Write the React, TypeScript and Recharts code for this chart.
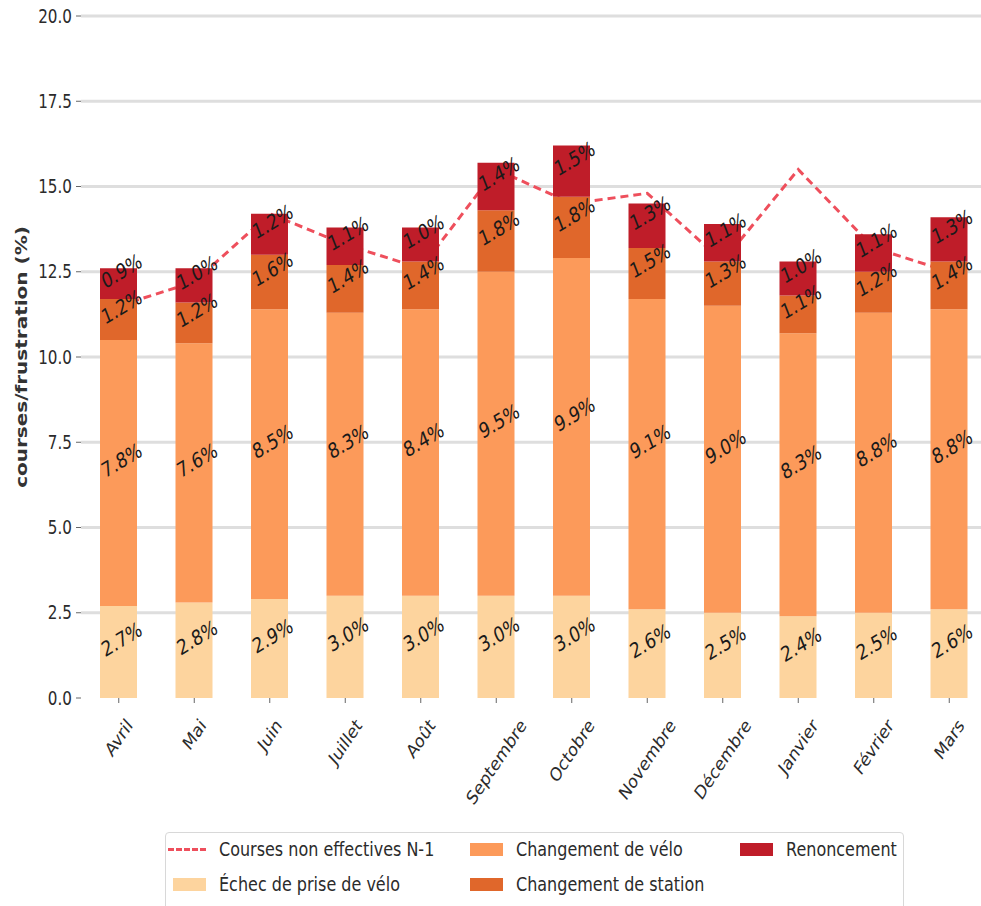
import { ComposedChart, Bar, Line, XAxis, YAxis, CartesianGrid, LabelList, Label } from 'recharts'

const months = ['Avril', 'Mai', 'Juin', 'Juillet', 'Août', 'Septembre', 'Octobre', 'Novembre', 'Décembre', 'Janvier', 'Février', 'Mars']
const echec = [2.7, 2.8, 2.9, 3.0, 3.0, 3.0, 3.0, 2.6, 2.5, 2.4, 2.5, 2.6]
const changementVelo = [7.8, 7.6, 8.5, 8.3, 8.4, 9.5, 9.9, 9.1, 9.0, 8.3, 8.8, 8.8]
const changementStation = [1.2, 1.2, 1.6, 1.4, 1.4, 1.8, 1.8, 1.5, 1.3, 1.1, 1.2, 1.4]
const renoncement = [0.9, 1.0, 1.2, 1.1, 1.0, 1.4, 1.5, 1.3, 1.1, 1.0, 1.1, 1.3]
const coursesN1 = [11.5, 12.2, 14.2, 13.3, 12.6, 15.5, 14.5, 14.8, 12.8, 15.5, 13.2, 12.5]
const yTicks = [0, 2.5, 5, 7.5, 10, 12.5, 15, 17.5, 20]
const gridValues = [2.5, 5, 7.5, 10, 12.5, 15, 17.5, 20]

const barSeries = [
    { key: 'echec', name: 'Échec de prise de vélo', color: '#fdd49e', values: echec },
    { key: 'velo', name: 'Changement de vélo', color: '#fc9a5a', values: changementVelo },
    { key: 'station', name: 'Changement de station', color: '#e0672b', values: changementStation },
    { key: 'renoncement', name: 'Renoncement', color: '#bf1d29', values: renoncement },
]
const lineSeries = { key: 'n1', name: 'Courses non effectives N-1', color: '#ee4f5c' }

const data = months.map((month, i) => {
    const row: Record<string, string | number> = { month, n1: coursesN1[i] }
    barSeries.forEach((s) => { row[s.key] = s.values[i] })
    return row
})

const FONT = "'DejaVu Sans', sans-serif"
// the picture is narrower than it is tall, so all text gets squeezed sideways
const SX = 0.8

let ctx: CanvasRenderingContext2D | null = null
const textWidth = (s: string, size: number) => {
    if (!ctx) ctx = document.createElement('canvas').getContext('2d')
    if (!ctx) return s.length * size * 0.6
    ctx.font = `${size}px 'DejaVu Sans'`
    return ctx.measureText(s).width
}

const MonthTick = ({ x, y, payload }: any) => {
    const size = 19
    const angle = 50
    const rad = (angle * Math.PI) / 180
    const len = textWidth(String(payload.value), size)
    const boxH = len * Math.sin(rad) + size * 0.95 * Math.cos(rad)
    const cy = y + 11 + boxH / 2
    return (
        <text
            transform={`translate(${x},${cy}) scale(${SX},1) rotate(-${angle})`}
            textAnchor='middle'
            dominantBaseline='central'
            fontSize={size}
            fontFamily={FONT}
            fill='#2b2b2b'
        >
            {payload.value}
        </text>
    )
}

const ValueTick = ({ x, y, payload }: any) => (
    <text
        transform={`translate(${x},${y}) scale(${SX},1)`}
        textAnchor='end'
        dominantBaseline='central'
        fontSize={19}
        fontFamily={FONT}
        fill='#2b2b2b'
    >
        {Number(payload.value).toFixed(1)}
    </text>
)

const AxisTitle = ({ viewBox }: any) => {
    const cx = viewBox.x + 21
    const cy = viewBox.y + viewBox.height / 2
    return (
        <text
            transform={`translate(${cx},${cy}) scale(${SX},1) rotate(-90)`}
            textAnchor='middle'
            dominantBaseline='central'
            fontSize={20}
            fontWeight='bold'
            fontFamily={FONT}
            fill='#333'
        >
            courses/frustration (%)
        </text>
    )
}

const SegmentLabel = (props: any) => {
    const { x, y, width, height, value } = props
    const cx = Number(x) + Number(width) / 2 + 3
    const cy = Number(y) + Number(height) / 2 - 13
    return (
        <text
            transform={`translate(${cx},${cy}) scale(${SX},1) rotate(-26)`}
            textAnchor='middle'
            dominantBaseline='central'
            fontSize={21}
            fontFamily={FONT}
            fill='#1a1a1a'
        >
            {`${Number(value).toFixed(1)}%`}
        </text>
    )
}

// legend, matplotlib-style: 3 columns, filled column by column
const legendItems = [
    { name: lineSeries.name, color: lineSeries.color, line: true },
    ...barSeries.map((s) => ({ name: s.name, color: s.color, line: false })),
]
const legendColumns = [53, 350, 620]

const ChartLegend = () => (
    <div
        style={{
            position: 'absolute',
            left: 165,
            top: 832,
            width: 737,
            height: 90,
            border: '1px solid #d8d8d8',
            borderRadius: 4,
            background: '#fff',
        }}
    >
        {legendItems.map((item, i) => {
            const col = Math.floor(i / 2)
            const row = i % 2
            const textLeft = legendColumns[col]
            const swatchW = item.line ? 38 : 33
            return (
                <div
                    key={item.name}
                    style={{ position: 'absolute', left: textLeft - 13 - swatchW, top: 16 + row * 35, height: 0 }}
                >
                    {item.line ? (
                        <div
                            style={{
                                position: 'absolute',
                                left: 0,
                                top: -1.5,
                                width: swatchW,
                                borderTop: `3px dashed ${item.color}`,
                            }}
                        />
                    ) : (
                        <div
                            style={{
                                position: 'absolute',
                                left: 0,
                                top: -6.5,
                                width: swatchW,
                                height: 13,
                                background: item.color,
                            }}
                        />
                    )}
                    <span
                        style={{
                            position: 'absolute',
                            left: swatchW + 13,
                            top: -12,
                            lineHeight: '24px',
                            fontSize: 20,
                            fontFamily: FONT,
                            color: '#2b2b2b',
                            whiteSpace: 'nowrap',
                            transform: `scaleX(${SX})`,
                            transformOrigin: 'left center',
                        }}
                    >
                        {item.name}
                    </span>
                </div>
            )
        })}
    </div>
)

export default function App() {
    return (
        <div
            style={{
                position: 'absolute',
                left: 0,
                top: 0,
                width: 981,
                height: 906,
                overflow: 'hidden',
                background: '#fff',
            }}
        >
            <ComposedChart
                width={990}
                height={906}
                data={data}
                margin={{ top: 16, right: 3, bottom: 108, left: 0 }}
            >
                <CartesianGrid vertical={false} horizontalValues={gridValues} stroke='#dedede' strokeWidth={3} />
                <XAxis
                    dataKey='month'
                    interval={0}
                    height={100}
                    axisLine={false}
                    tickLine={{ stroke: '#666' }}
                    tickSize={5}
                    tick={<MonthTick />}
                />
                <YAxis
                    width={81}
                    domain={[0, 20]}
                    ticks={yTicks}
                    axisLine={false}
                    tickLine={{ stroke: '#666' }}
                    tickSize={5}
                    tickMargin={4}
                    tick={<ValueTick />}
                >
                    <Label content={<AxisTitle />} />
                </YAxis>
                <Line
                    dataKey={lineSeries.key}
                    name={lineSeries.name}
                    stroke={lineSeries.color}
                    strokeWidth={3}
                    strokeDasharray='8 5'
                    dot={false}
                    activeDot={false}
                    zIndex={250}
                    isAnimationActive={false}
                />
                {barSeries.map((s) => (
                    <Bar
                        key={s.key}
                        dataKey={s.key}
                        name={s.name}
                        stackId='total'
                        fill={s.color}
                        barSize={37}
                        isAnimationActive={false}
                    >
                        <LabelList dataKey={s.key} content={<SegmentLabel />} />
                    </Bar>
                ))}
            </ComposedChart>
            <ChartLegend />
        </div>
    )
}
